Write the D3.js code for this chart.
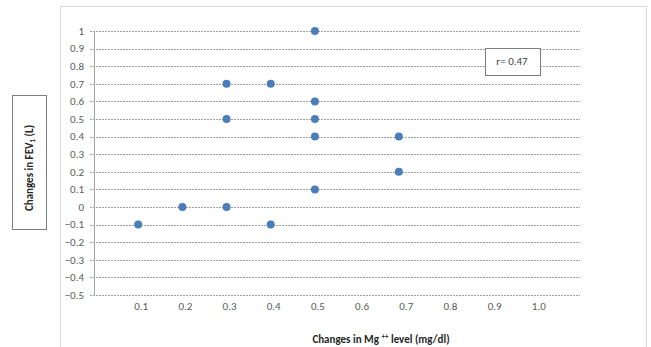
<!DOCTYPE html>
<html>
<head>
<meta charset="utf-8">
<script src="https://cdn.jsdelivr.net/npm/d3@7"></script>
<style>
  body { margin: 0; background: #fff; }
  text { font-family: Calibri, Carlito, "Liberation Sans", Arial, sans-serif; }
</style>
</head>
<body>
<div id="vis"></div>
<script>
// change in Mg++ level (x) vs change in FEV1 (y)
var mgChange  = [0.5, 0.3, 0.4, 0.5, 0.3, 0.5, 0.5, 0.69, 0.69, 0.5, 0.2, 0.3, 0.1, 0.4];
var fevChange = [1.0, 0.7, 0.7, 0.6, 0.5, 0.5, 0.4, 0.4, 0.2, 0.1, 0, 0, -0.1, -0.1];
var xTicks = [0.1, 0.2, 0.3, 0.4, 0.5, 0.6, 0.7, 0.8, 0.9, 1.0];
var yTicks = [-0.5, -0.4, -0.3, -0.2, -0.1, 0, 0.1, 0.2, 0.3, 0.4, 0.5, 0.6, 0.7, 0.8, 0.9, 1];
var rLabel = "r= 0.47";

var W = 651, H = 347;
var svg = d3.select("#vis").append("svg").attr("width", W).attr("height", H);

// chart frame
svg.append("rect")
  .attr("x", 60.5).attr("y", 6.5)
  .attr("width", 586).attr("height", 360)
  .attr("fill", "#fff").attr("stroke", "#d9d9d9");

var x = d3.scaleLinear().domain([0, 1.1]).range([94, 580]);
var y = d3.scaleLinear().domain([-0.5, 1]).range([295, 31]);

// horizontal dashed gridlines
svg.append("g").selectAll("line")
  .data(yTicks)
  .join("line")
  .attr("x1", x(0) - 4).attr("x2", x(1.1))
  .attr("y1", function(d) { return Math.round(y(d)) + 0.5; })
  .attr("y2", function(d) { return Math.round(y(d)) + 0.5; })
  .attr("stroke", "#a0a0a0")
  .attr("stroke-dasharray", "2,1");

// y axis line
svg.append("line")
  .attr("x1", x(0) + 0.5).attr("x2", x(0) + 0.5)
  .attr("y1", y(1)).attr("y2", y(-0.5))
  .attr("stroke", "#a6a6a6");

// y tick labels
svg.append("g").selectAll("text")
  .data(yTicks)
  .join("text")
  .attr("x", 84)
  .attr("y", function(d) { return y(d); })
  .attr("dy", "0.35em")
  .attr("text-anchor", "end")
  .attr("font-size", 11)
  .attr("fill", "#595959")
  .text(function(d) { return d === 0 ? "0" : d3.format("")(d); });

// x tick labels
svg.append("g").selectAll("text")
  .data(xTicks)
  .join("text")
  .attr("x", function(d) { return x(d) + 3; })
  .attr("y", 306)
  .attr("dy", "0.35em")
  .attr("text-anchor", "middle")
  .attr("font-size", 11)
  .attr("fill", "#595959")
  .text(function(d) { return d3.format(".1f")(d); });

// points
svg.append("g").selectAll("circle")
  .data(mgChange.map(function(v, i) { return [v, fevChange[i]]; }))
  .join("circle")
  .attr("cx", function(d) { return x(d[0]); })
  .attr("cy", function(d) { return y(d[1]); })
  .attr("r", 4)
  .attr("fill", "#4a7ebb");

// r annotation box
svg.append("rect")
  .attr("x", 485.5).attr("y", 48.5)
  .attr("width", 55).attr("height", 27)
  .attr("fill", "#fff").attr("stroke", "#7f7f7f");
svg.append("text")
  .attr("x", 512).attr("y", 61)
  .attr("dy", "0.35em")
  .attr("text-anchor", "middle")
  .attr("font-size", 11)
  .attr("fill", "#404040")
  .text(rLabel);

// y axis title in box
svg.append("rect")
  .attr("x", 12.5).attr("y", 95.5)
  .attr("width", 34).attr("height", 134)
  .attr("fill", "#fff").attr("stroke", "#7f7f7f");
var yt = svg.append("text")
  .attr("transform", "translate(33,168) rotate(-90)")
  .attr("text-anchor", "middle")
  .attr("font-size", 11)
  .attr("font-weight", "bold")
  .attr("fill", "#262626");
yt.append("tspan").text("Changes  in FEV");
yt.append("tspan").attr("font-size", 7).attr("dy", 2).text("1");
yt.append("tspan").attr("dy", -2).text(" (L)");

// x axis title
var xt = svg.append("text")
  .attr("x", 381).attr("y", 343)
  .attr("text-anchor", "middle")
  .attr("font-size", 11)
  .attr("font-weight", "bold")
  .attr("fill", "#262626");
xt.append("tspan").text("Changes in Mg ");
xt.append("tspan").attr("font-size", 7).attr("dy", -4).text("++");
xt.append("tspan").attr("dy", 4).text(" level (mg/dl)");
</script>
</body>
</html>
